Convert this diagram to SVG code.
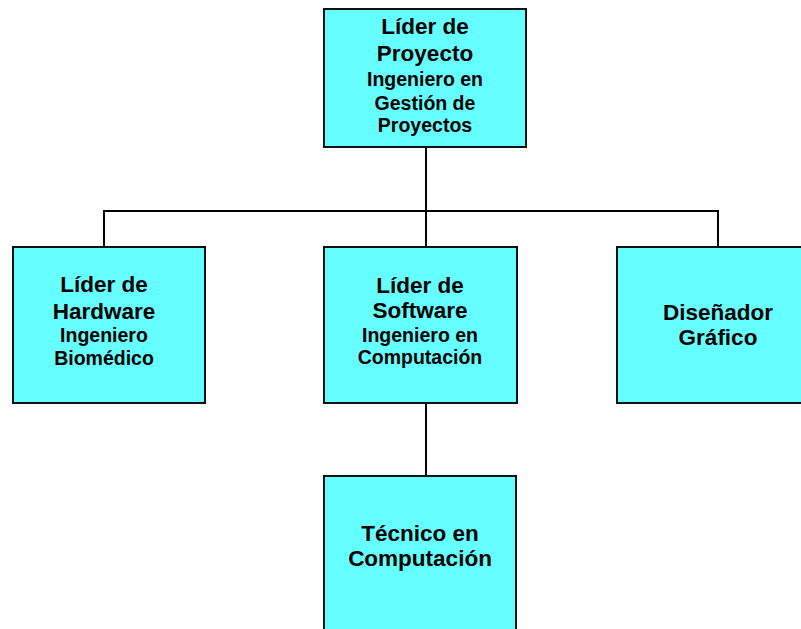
<svg xmlns="http://www.w3.org/2000/svg" width="801" height="629" viewBox="0 0 801 629">
<style>
.box{fill:#66FFFF;stroke:#111111;stroke-width:2}
.sh{fill:none;stroke:#999999;stroke-width:1}
.big{font-family:"Liberation Sans",Arial,sans-serif;font-weight:bold;font-size:22.5px;fill:#000;text-anchor:middle}
.sm{font-family:"Liberation Sans",Arial,sans-serif;font-weight:bold;font-size:19.5px;fill:#000;text-anchor:middle}
.ln{fill:none;stroke:#000;stroke-width:2}
</style>
<rect width="801" height="629" fill="#ffffff"/>
<g id="connectors">
<line class="ln" x1="426" y1="147" x2="426" y2="247"/>
<polyline class="ln" points="104,247 104,211 718,211 718,247"/>
<line class="ln" x1="426" y1="403" x2="426" y2="476"/>
</g>
<g id="node-lider-proyecto">
<rect class="box" x="324" y="9" width="202" height="138"/>
<text class="big" x="425" y="34">Líder de</text>
<text class="big" x="425" y="61">Proyecto</text>
<text class="sm" x="425" y="86">Ingeniero en</text>
<text class="sm" x="425" y="110">Gestión de</text>
<text class="sm" x="425" y="132">Proyectos</text>
</g>
<g id="node-lider-hardware">
<rect class="box" x="13" y="247" width="192" height="156"/>
<text class="big" x="104" y="292">Líder de</text>
<text class="big" x="104" y="319">Hardware</text>
<text class="sm" x="104" y="342">Ingeniero</text>
<text class="sm" x="104" y="365">Biomédico</text>
</g>
<g id="node-lider-software">
<rect class="box" x="324" y="247" width="193" height="156"/>
<text class="big" x="420" y="293">Líder de</text>
<text class="big" x="420" y="318">Software</text>
<text class="sm" x="420" y="342">Ingeniero en</text>
<text class="sm" x="420" y="364">Computación</text>
</g>
<g id="node-disenador">
<rect class="box" x="617" y="247" width="202" height="156"/>
<text class="big" x="718" y="320">Diseñador</text>
<text class="big" x="718" y="345">Gráfico</text>
</g>
<g id="node-tecnico">
<rect class="box" x="324" y="476" width="192" height="156"/>
<text class="big" x="420" y="541">Técnico en</text>
<text class="big" x="420" y="566">Computación</text>
</g>
</svg>
